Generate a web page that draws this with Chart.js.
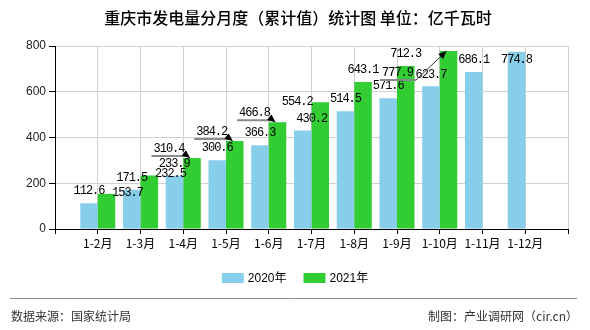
<!DOCTYPE html>
<html><head><meta charset="utf-8">
<script src="https://cdn.jsdelivr.net/npm/chart.js@4.4.0/dist/chart.umd.min.js"></script>
<style>html,body{margin:0;padding:0;background:#fff;}</style>
</head><body>
<canvas id="c" width="590" height="330"></canvas>
<script>
const categories = ['1-2月','1-3月','1-4月','1-5月','1-6月','1-7月','1-8月','1-9月','1-10月','1-11月','1-12月'];
const values2020 = [112.6,171.5,232.5,300.6,366.3,430.2,514.5,571.6,623.7,686.1,774.8];
const values2021 = [153.7,233.9,310.4,384.2,466.8,554.2,643.1,712.3,777.9];
const seriesNames = ['2020年','2021年'];
const seriesColors = ['#87CEEB','#32CD32'];
const yTickValues = [0,200,400,600,800];
const titleText = '重庆市发电量分月度（累计值）统计图 单位：亿千瓦时';
const sourceText = '数据来源：国家统计局';
const creditText = '制图：产业调研网（cir.cn）';

// label displacement (style), relative to default "above bar" spot
const labelShift = [
  [[0,0],[0,0],[-4,10],[0,0],[0,0],[9,0],[0,0],[0,0],[0,0],[0,0],[0,20]],
  [[21,11],[25,0],[-23,3],[-23,3],[-23,3],[-23,12],[0,0],[0,0],[-51,34]]
];
const labelArrow = [
  [],
  [false,false,true,true,true,false,false,false,true]
];

const labels = [''].concat(categories, ['']);
function pad(arr){ const out=[null].concat(arr); while(out.length<labels.length) out.push(null); return out; }

const extras = {
  id:'extras',
  afterDatasetsDraw(chart){
    const ctx = chart.ctx;
    ctx.save();
    ctx.font = '12px "Liberation Mono", monospace';
    try { ctx.letterSpacing = '-1px'; } catch(e){}
    ctx.textAlign = 'center';
    ctx.textBaseline = 'middle';
    chart.data.datasets.forEach((ds, di) => {
      const meta = chart.getDatasetMeta(di);
      ds.data.forEach((v, i) => {
        if (v === null) return;
        const bar = meta.data[i];
        const k = i - 1;
        const sh = (labelShift[di][k]) || [0,0];
        const txt = v.toFixed(1);
        const cx = bar.x + sh[0];
        const cy = bar.y - 12 + sh[1];
        if (labelArrow[di][k]) {
          const w = ctx.measureText(txt).width;
          const l = cx - w/2 - 2, r = cx + w/2 + 3, uy = cy + 7;
          ctx.strokeStyle = '#8a8a8a'; ctx.lineWidth = 2;
          ctx.beginPath(); ctx.moveTo(l, uy); ctx.lineTo(r, uy); ctx.stroke();
          const tx = bar.x - 2, ty = bar.y;
          ctx.strokeStyle = '#333'; ctx.lineWidth = 1;
          ctx.beginPath(); ctx.moveTo(r, uy); ctx.lineTo(tx, ty); ctx.stroke();
          let ang = Math.atan2(ty - uy, tx - r);
          const L = 8, W = 3.5;
          const bx = tx - L*Math.cos(ang), by = ty - L*Math.sin(ang);
          ctx.fillStyle = '#000';
          ctx.beginPath();
          ctx.moveTo(tx, ty);
          ctx.lineTo(bx + W*Math.sin(ang), by - W*Math.cos(ang));
          ctx.lineTo(bx - W*Math.sin(ang), by + W*Math.cos(ang));
          ctx.closePath(); ctx.fill();
        }
        ctx.fillStyle = '#000';
        ctx.fillText(txt, cx, cy);
      });
    });
    ctx.restore();
  },
  afterDraw(chart){
    const ctx = chart.ctx;
    ctx.save();
    try { ctx.letterSpacing = '0px'; } catch(e){}
    // title
    ctx.fillStyle = '#000';
    ctx.font = '500 16px "Noto Sans CJK SC"';
    ctx.textAlign = 'center'; ctx.textBaseline = 'middle';
    ctx.fillText(titleText, 298, 18);
    // legend
    ctx.font = '12px "Liberation Sans", "Noto Sans CJK SC"';
    ctx.textAlign = 'left';
    const boxW = 22, boxH = 10, gap = 4, spacing = 17;
    const widths = seriesNames.map(n => ctx.measureText(n).width);
    let total = 0;
    widths.forEach((w, i) => { total += boxW + gap + w + (i ? spacing : 0); });
    let x = 295 - total/2;
    const ly = 278;
    seriesNames.forEach((n, i) => {
      ctx.fillStyle = seriesColors[i];
      ctx.fillRect(x, ly - boxH/2, boxW, boxH);
      ctx.fillStyle = '#000';
      ctx.fillText(n, x + boxW + gap, ly + 1);
      x += boxW + gap + widths[i] + spacing;
    });
    // footer
    ctx.strokeStyle = '#8c8c8c'; ctx.lineWidth = 1;
    ctx.beginPath(); ctx.moveTo(10, 298.5); ctx.lineTo(577, 298.5); ctx.stroke();
    ctx.fillStyle = '#333';
    ctx.font = '12px "Noto Sans CJK SC"';
    ctx.textAlign = 'left';
    ctx.fillText(sourceText, 11, 316);
    ctx.textAlign = 'right';
    ctx.fillText(creditText, 578, 316);
    ctx.restore();
  }
};

new Chart(document.getElementById('c'), {
  type: 'bar',
  data: {
    labels: labels,
    datasets: [
      { label: seriesNames[0], data: pad(values2020), backgroundColor: seriesColors[0] },
      { label: seriesNames[1], data: pad(values2021), backgroundColor: seriesColors[1] }
    ]
  },
  options: {
    responsive: false,
    animation: false,
    devicePixelRatio: 1,
    layout: { padding: { left: 0, top: 46, right: 22, bottom: 76 } },
    datasets: { bar: { categoryPercentage: 0.82, barPercentage: 1 } },
    plugins: { legend: { display: false }, title: { display: false }, tooltip: { enabled: false } },
    scales: {
      x: {
        type: 'category',
        offset: false,
        grid: { offset: false, color: '#d0d0d0', tickColor: '#000', tickLength: 5 },
        border: { color: '#000', width: 1 },
        ticks: { font: { family: '"Noto Sans CJK SC"', size: 12 }, color: '#000', maxRotation: 0, autoSkip: false, padding: 2 },
        afterFit(s){ s.height = 25; }
      },
      y: {
        min: 0, max: 800,
        afterBuildTicks(s){ s.ticks = yTickValues.map(v => ({ value: v })); },
        grid: { color: '#d0d0d0', tickColor: '#000', tickLength: 6 },
        border: { color: '#000', width: 1 },
        ticks: { font: { family: '"Liberation Sans"', size: 12 }, color: '#222', padding: 3 },
        afterFit(s){ s.width = 55; }
      }
    }
  },
  plugins: [extras]
});
</script>
</body></html>
